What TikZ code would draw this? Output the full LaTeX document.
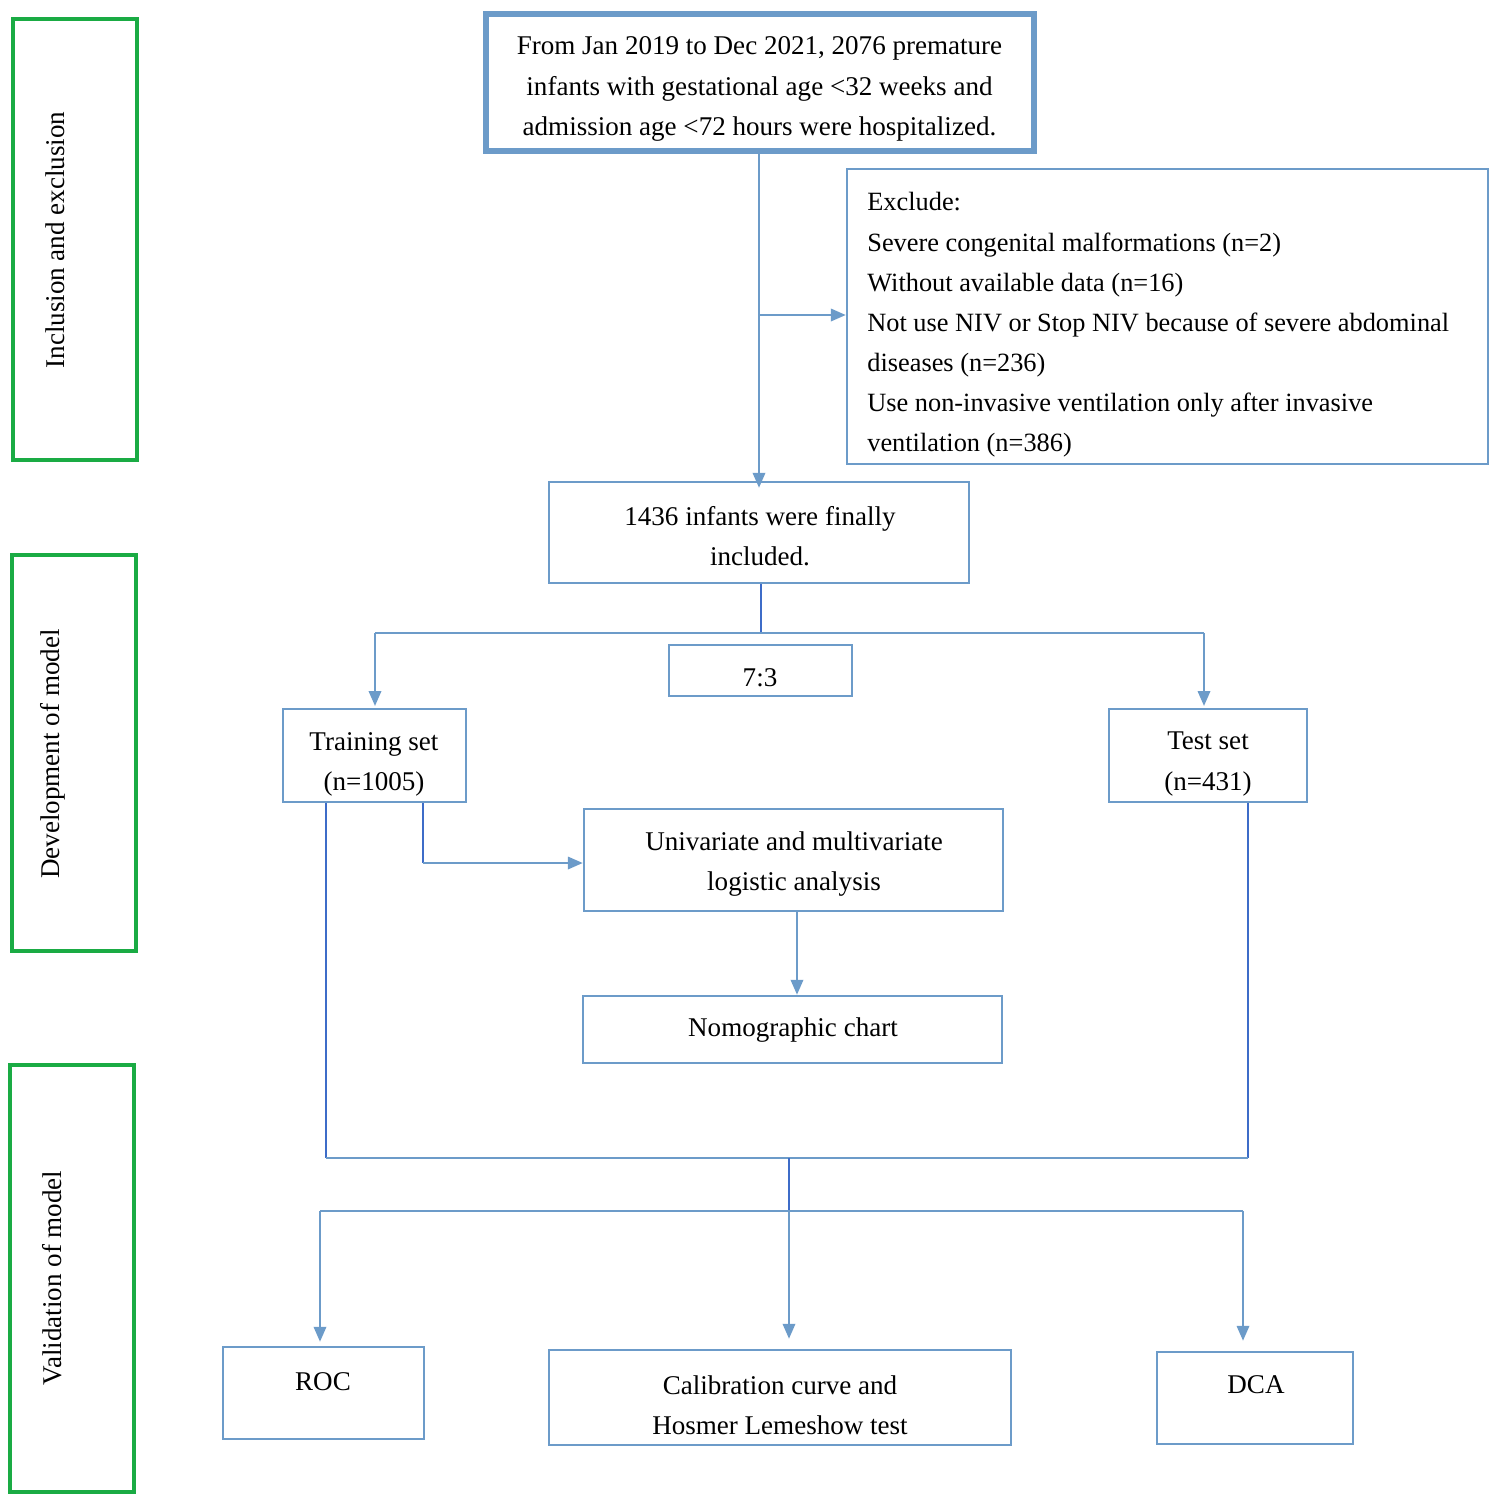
\documentclass[tikz,border=0pt]{standalone}
\usepackage{fontspec}
\setmainfont{Liberation Serif}
\usetikzlibrary{arrows.meta,calc}
\definecolor{boxblue}{HTML}{6C9BC9}
\definecolor{darkblue}{HTML}{3D6CC8}
\definecolor{grn}{HTML}{1AAB44}
\begin{document}
\begin{tikzpicture}[x=0.02cm,y=-0.02cm,
  font=\fontsize{15.4}{22.85}\selectfont,
  box/.style={draw=boxblue,line width=1.4pt,rectangle,inner sep=0pt},
  sidebox/.style={draw=grn,line width=1.8pt,rectangle,inner sep=0pt,minimum width=2.48cm},
  sidetxt/.style={rotate=90,inner sep=0pt},
  conn/.style={draw=boxblue,line width=1.4pt},
  dconn/.style={draw=darkblue,line width=1.4pt},
  arr/.style={conn,-{Triangle[length=8.5pt,width=7pt]}},
  txt/.style={inner sep=0pt,align=center}]
\useasboundingbox (0,0) rectangle (1499,1508);

% side boxes
\node[sidebox,minimum height=8.82cm] (g1) at (75,239.5) {};
\node[sidetxt] (g1t) at (55,240) {Inclusion and exclusion};
\node[sidebox,minimum height=7.92cm] (g2) at (74,753) {};
\node[sidetxt] (g2t) at (53,754) {Development of model};
\node[sidebox,minimum height=8.54cm] (g3) at (72,1278.5) {};
\node[sidetxt] (g3t) at (52,1278) {Validation of model};

% main boxes
\node[box,line width=3.4pt,minimum width=10.96cm,minimum height=2.74cm] (top) at (760,82.5) {};
\node[txt] (topt) at (759.5,89)
  {From Jan 2019 to Dec 2021, 2076 premature\\infants with gestational age <32 weeks and\\admission age <72 hours were hospitalized.};
\node[box,minimum width=12.82cm,minimum height=5.9cm] (exc) at (1167.5,316.5) {};
\node[txt,align=left,anchor=west,font=\fontsize{15}{22.85}\selectfont] (exct) at (867,325)
  {Exclude:\\
   Severe congenital malformations (n=2)\\
   Without available data (n=16)\\
   Not use NIV or Stop NIV because of severe abdominal\\
   diseases (n=236)\\
   Use non-invasive ventilation only after invasive\\
   ventilation (n=386)};
\node[box,minimum width=8.4cm,minimum height=2.02cm] (inc) at (759,532.5) {};
\node[txt] (inct) at (760,536) {1436 infants were finally\\included.};
\node[box,minimum width=3.66cm,minimum height=1.02cm] (ratio) at (760.5,670.5) {};
\node[txt] (ratiot) at (760,678) {7:3};
\node[box,minimum width=3.66cm,minimum height=1.86cm] (train) at (374.5,755.5) {};
\node[txt] (traint) at (374,764) {Training set\\(n=1005)};
\node[box,minimum width=3.96cm,minimum height=1.86cm] (test) at (1208,755.5) {};
\node[txt] (testt) at (1208,764) {Test set\\(n=431)};
\node[box,minimum width=8.38cm,minimum height=2.04cm] (uni) at (793.5,860) {};
\node[txt] (unit) at (794,864) {Univariate and multivariate\\logistic analysis};
\node[box,minimum width=8.38cm,minimum height=1.34cm] (nomo) at (792.5,1029.5) {};
\node[txt] (nomot) at (793,1030) {Nomographic chart};
\node[box,minimum width=4.02cm,minimum height=1.84cm] (roc) at (323.5,1393) {};
\node[txt] (roct) at (323,1382) {ROC};
\node[box,minimum width=9.24cm,minimum height=1.9cm] (cal) at (780,1397.5) {};
\node[txt] (calt) at (780,1405) {Calibration curve and\\Hosmer Lemeshow test};
\node[box,minimum width=3.92cm,minimum height=1.84cm] (dca) at (1255,1398) {};
\node[txt] (dcat) at (1256,1385) {DCA};

% connectors
\coordinate (b1) at (759,315);
\draw[conn] (b1 |- top.south) -- (b1);
\draw[arr] (b1) -- ([yshift=-4pt]b1 |- inc.north);
\draw[arr] (b1) -- (b1 -| exc.west);

\coordinate (sl) at (375,633);
\coordinate (sr) at (1204,633);
\coordinate (s1) at (761,633);
\draw[dconn] (s1 |- inc.south) -- (s1);
\draw[conn] (sl) -- (sr);
\draw[arr] (sl) -- ([yshift=1pt]sl |- train.north);
\draw[arr] (sr) -- ([yshift=1pt]sr |- test.north);

\coordinate (tu) at (423,863);
\draw[dconn] (tu |- train.south) -- (tu);
\draw[arr] (tu) -- (tu -| uni.west);
\coordinate (us) at (797,911);
\draw[arr] (us |- uni.south) -- (us |- nomo.north);

\coordinate (tl) at (326,1158);
\coordinate (tr) at (1248,1158);
\draw[dconn] (tl |- train.south) -- (tl);
\draw[dconn] (tr |- test.south) -- (tr);
\draw[conn] (tl) -- (tr);
\coordinate (m1) at (789,1158);
\coordinate (m2) at (789,1211);
\draw[dconn] (m1) -- (m2);
\coordinate (vl) at (320,1211);
\coordinate (vr) at (1243,1211);
\draw[conn] (vl) -- (vr);
\draw[arr,shorten >=0.08cm] (vl) -- (vl |- roc.north);
\draw[arr,shorten >=0.2cm] (m2) -- (m2 |- cal.north);
\draw[arr,shorten >=0.2cm] (vr) -- (vr |- dca.north);
\end{tikzpicture}
\end{document}
